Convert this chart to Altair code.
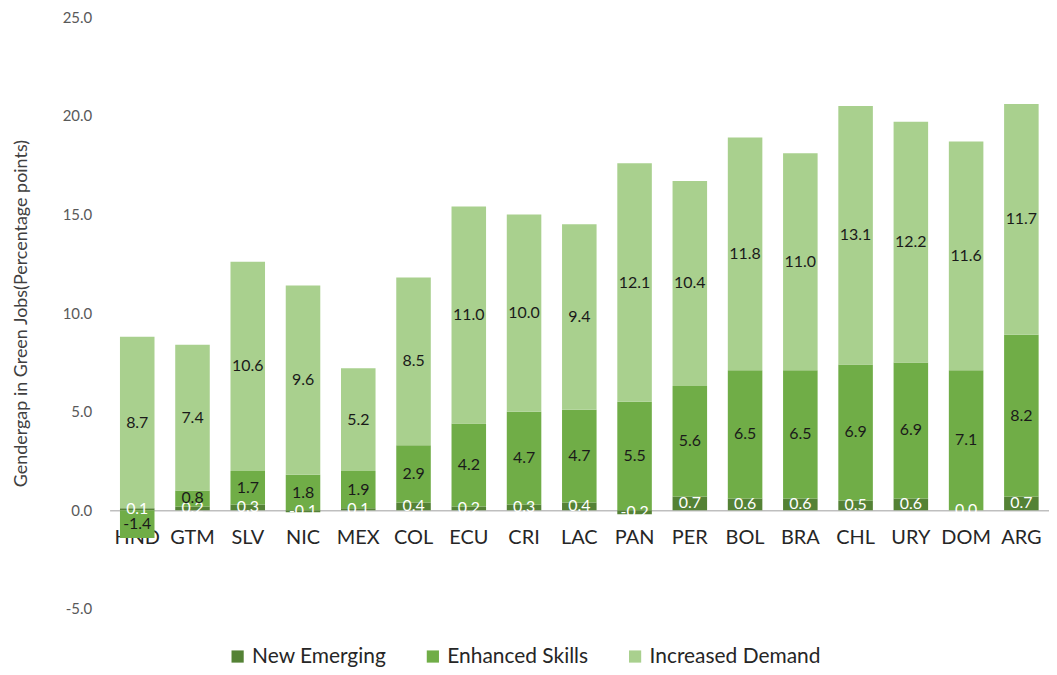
import altair as alt
import pandas as pd

countries = ["HND", "GTM", "SLV", "NIC", "MEX", "COL", "ECU", "CRI", "LAC",
             "PAN", "PER", "BOL", "BRA", "CHL", "URY", "DOM", "ARG"]
new_emerging = [0.1, 0.2, 0.3, -0.1, 0.1, 0.4, 0.2, 0.3, 0.4,
                -0.2, 0.7, 0.6, 0.6, 0.5, 0.6, 0.0, 0.7]
enhanced_skills = [-1.4, 0.8, 1.7, 1.8, 1.9, 2.9, 4.2, 4.7, 4.7,
                   5.5, 5.6, 6.5, 6.5, 6.9, 6.9, 7.1, 8.2]
increased_demand = [8.7, 7.4, 10.6, 9.6, 5.2, 8.5, 11.0, 10.0, 9.4,
                    12.1, 10.4, 11.8, 11.0, 13.1, 12.2, 11.6, 11.7]
series_names = ["New Emerging", "Enhanced Skills", "Increased Demand"]
series_colors = ["#548235", "#70AD47", "#A9D08E"]
label_colors = ["white", "#1a1a1a", "#1a1a1a"]

rows = []
for i, c in enumerate(countries):
    for k, (name, vals) in enumerate(zip(series_names,
                                         [new_emerging, enhanced_skills, increased_demand])):
        rows.append({"country": c, "series": name, "value": vals[i], "order": k,
                     "lcolor": label_colors[k]})
df = pd.DataFrame(rows)

FONT = "Lato"
H = 594
W = 943

base = alt.Chart(df).transform_stack(
    stack="value", groupby=["country"], as_=["y0", "y1"],
    sort=[alt.SortField("order", order="ascending")]
).transform_calculate(
    mid="(datum.y0 + datum.y1) / 2",
    txt="replace(format(datum.value, '.1f'), '\u2212', '-')"
)

xenc = alt.X("country:N", sort=countries, title=None,
             scale=alt.Scale(paddingInner=0.375, paddingOuter=0.1875),
             axis=alt.Axis(offset=-H * 5 / 30, labelAngle=0, labelFontSize=20,
                           labelColor="#262626", labelFont=FONT, ticks=False,
                           domainColor="#BFBFBF", domainWidth=1.5, labelPadding=17,
                           labelBaseline="top"))

bars = base.mark_bar().encode(
    x=xenc,
    y=alt.Y("y0:Q", title="Gendergap in Green Jobs(Percentage points)",
            scale=alt.Scale(domain=[-5, 25], nice=False),
            axis=alt.Axis(values=[-5, 0, 5, 10, 15, 20, 25],
                          labelExpr="replace(format(datum.value, '.1f'), '\u2212', '-')",
                          grid=False, domain=False, ticks=False,
                          labelFontSize=15, labelColor="#595959", labelFont=FONT,
                          labelPadding=18, titleFontSize=18, titleColor="#404040",
                          titleFont=FONT, titleFontWeight="normal", titlePadding=32)),
    y2="y1:Q",
    color=alt.Color("series:N", sort=series_names,
                    scale=alt.Scale(domain=series_names, range=series_colors),
                    legend=alt.Legend(title=None, orient="none", direction="horizontal",
                                      legendX=118, legendY=631,
                                      symbolType="square", symbolSize=150,
                                      symbolStrokeWidth=0, labelFontSize=21,
                                      labelFont=FONT, labelColor="#262626",
                                      labelLimit=400, columnPadding=36)),
    order=alt.Order("order:Q")
)

labels = base.mark_text(fontSize=16, font=FONT).encode(
    x=alt.X("country:N", sort=countries),
    y=alt.Y("mid:Q"),
    text=alt.Text("txt:N"),
    color=alt.Color("lcolor:N", scale=None)
)

chart = alt.layer(bars, labels).properties(
    width=W, height=H, background="white",
    autosize=alt.AutoSizeParams(type="none"),
    padding={"left": 102, "top": 8, "right": 0, "bottom": 57}
).configure_view(strokeWidth=0)

chart.save("out.html", embed_options={"renderer": "svg", "actions": False})
